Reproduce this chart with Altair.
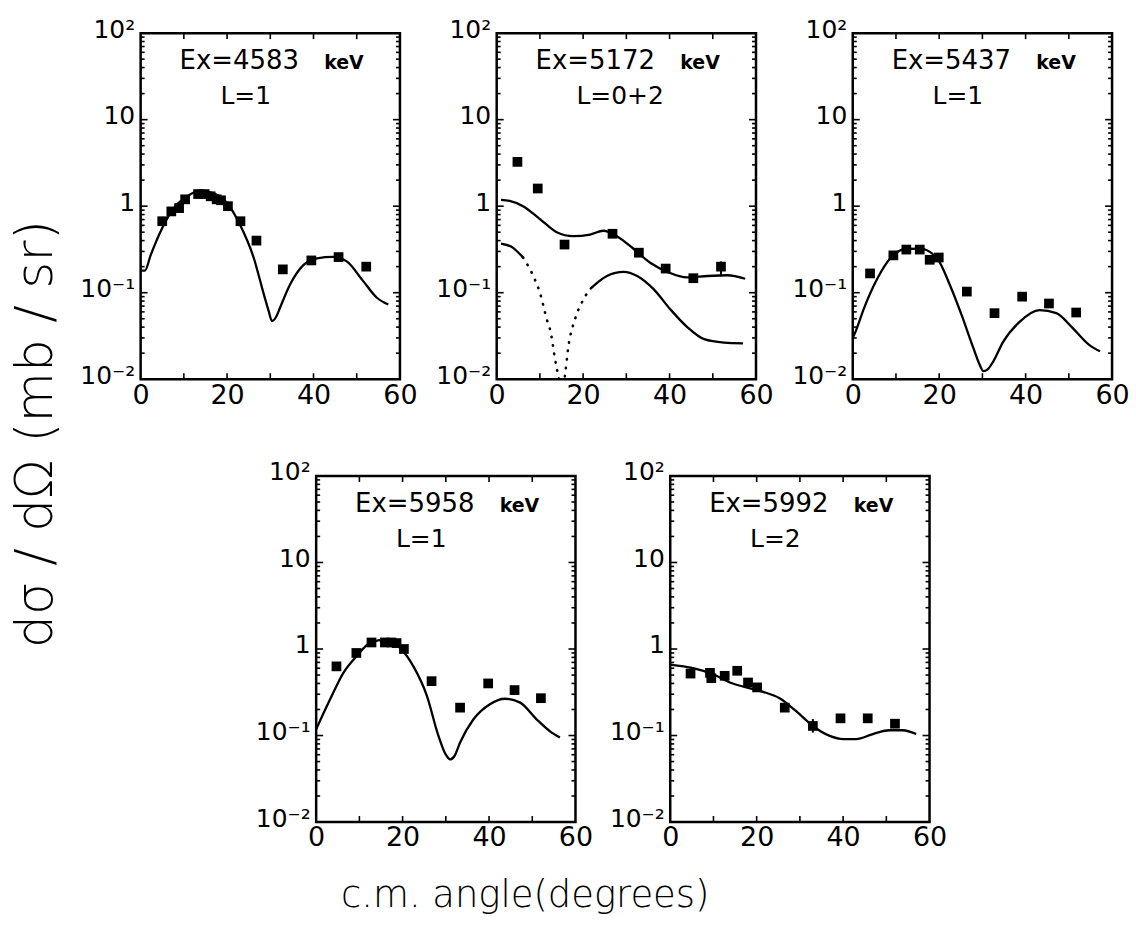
import altair as alt
import pandas as pd

FONT = "DejaVu Sans"
W, H = 260, 347

# ---------------- panel labels ----------------
ex_labels = ["Ex=4583", "Ex=5172", "Ex=5437", "Ex=5958", "Ex=5992"]
l_labels = ["L=1", "L=0+2", "L=1", "L=1", "L=2"]

# ---------------- data points (angle deg, mb/sr) ----------------
p1_ang = [5.0, 7.1, 8.9, 10.3, 13.3, 14.8, 16.2, 17.6, 18.6, 20.2, 23.1, 26.8, 32.9, 39.5, 45.8, 52.2]
p1_val = [0.67, 0.87, 0.95, 1.2, 1.38, 1.38, 1.30, 1.20, 1.17, 1.0, 0.67, 0.40, 0.186, 0.236, 0.258, 0.20]

p2_ang = [4.8, 9.5, 15.7, 26.8, 32.9, 39.1, 45.5, 51.9]
p2_val = [3.25, 1.60, 0.36, 0.48, 0.29, 0.19, 0.147, 0.20]

p3_ang = [4.0, 9.4, 12.4, 15.5, 17.8, 19.9, 26.4, 32.8, 39.2, 45.4, 51.7]
p3_val = [0.167, 0.27, 0.315, 0.315, 0.24, 0.255, 0.103, 0.058, 0.090, 0.075, 0.059]

p4_ang = [4.7, 9.3, 12.8, 15.9, 17.4, 18.6, 20.3, 26.7, 33.3, 39.8, 45.9, 52.0]
p4_val = [0.63, 0.90, 1.19, 1.19, 1.19, 1.17, 1.0, 0.425, 0.21, 0.40, 0.335, 0.27]

p5_ang = [4.7, 9.2, 9.5, 12.6, 15.5, 18.0, 20.1, 26.5, 33.0, 39.4, 45.7, 52.0]
p5_val = [0.52, 0.53, 0.46, 0.49, 0.56, 0.41, 0.36, 0.21, 0.129, 0.158, 0.158, 0.137]

# error bars (angle, low, high)
p2_err_ang, p2_err_lo, p2_err_hi = [51.9], [0.155], [0.23]
p5_err_ang, p5_err_lo, p5_err_hi = [33.0], [0.108], [0.155]

# ---------------- calculated curves ----------------
c1_ang = [0, 1.0, 2.3, 5, 7.7, 10.8, 13.8, 16.9, 20, 23, 26.2, 28.5, 29.6, 30.4, 31.3, 32.3, 34.6, 37.7, 40.8, 44.6, 47.7, 51.5, 54.6, 57.3]
c1_val = [0.18, 0.18, 0.27, 0.56, 0.95, 1.30, 1.51, 1.41, 1.09, 0.61, 0.25, 0.096, 0.062, 0.047, 0.052, 0.068, 0.125, 0.21, 0.25, 0.26, 0.23, 0.136, 0.088, 0.073]

c2_ang = [1.0, 3, 6.1, 10, 13.9, 17.7, 21.6, 24.7, 27.8, 31.7, 35.6, 39.5, 44.1, 48.8, 53.4, 57.5]
c2_val = [1.18, 1.15, 1.0, 0.71, 0.50, 0.45, 0.47, 0.52, 0.45, 0.32, 0.22, 0.174, 0.15, 0.156, 0.159, 0.145]

c2b_solid1_ang = [1.0, 3.8, 6.1]
c2b_solid1_val = [0.37, 0.33, 0.255]
c2b_dot_ang = [6.1, 8.8, 10, 11.6, 12.5, 13.5, 14.3, 15.1, 15.8, 16.6, 18.1, 20.1, 21.6]
c2b_dot_val = [0.255, 0.143, 0.10, 0.049, 0.035, 0.017, 0.0105, 0.006, 0.011, 0.024, 0.049, 0.084, 0.11]
c2b_solid2_ang = [21.6, 25.5, 29.4, 32.5, 36.3, 40.2, 44.1, 48, 52.6, 57]
c2b_solid2_val = [0.11, 0.156, 0.174, 0.156, 0.11, 0.064, 0.040, 0.029, 0.0265, 0.026]

c3_ang = [0, 0.7, 2.6, 5.7, 8.7, 12.2, 15.6, 19.5, 22.5, 25.2, 27.9, 29.3, 30.2, 31.2, 32.5, 34.8, 38.6, 43.2, 47.1, 50.9, 54.7, 57.2]
c3_val = [0.03, 0.036, 0.066, 0.146, 0.25, 0.32, 0.323, 0.25, 0.122, 0.055, 0.023, 0.015, 0.0124, 0.013, 0.016, 0.027, 0.046, 0.063, 0.058, 0.039, 0.025, 0.021]

c4_ang = [0, 3.2, 6.3, 9.3, 12.4, 16.2, 19.4, 22.5, 25.6, 28.3, 30.0, 31.0, 32.0, 33.3, 36.4, 40.2, 43.7, 47.2, 51, 54.5, 56.4]
c4_val = [0.118, 0.26, 0.53, 0.82, 1.17, 1.28, 1.03, 0.63, 0.29, 0.099, 0.060, 0.053, 0.058, 0.083, 0.154, 0.23, 0.266, 0.24, 0.154, 0.108, 0.095]

c5_ang = [0, 5.3, 9.9, 13.8, 17.6, 21.5, 25.3, 29.2, 33, 36.9, 40, 43, 46.9, 50.7, 53.8, 56.9]
c5_val = [0.66, 0.60, 0.51, 0.41, 0.36, 0.32, 0.27, 0.19, 0.129, 0.099, 0.091, 0.091, 0.104, 0.115, 0.115, 0.104]

# ---------------- axis ticks ----------------
y_major = [0.01, 0.1, 1, 10, 100]
y_minor = [k * d for d in [0.01, 0.1, 1, 10] for k in range(2, 10)]
x_ticks = [10, 20, 30, 40, 50]
x_labels = [0, 20, 40, 60]

xscale = alt.Scale(domain=[0, 60], nice=False, zero=False)
yscale = alt.Scale(type="log", domain=[0.01, 100], nice=False)

ylab_expr = ("datum.value >= 99 ? '10\u00b2' : datum.value >= 9 ? '10' : "
             "datum.value >= 0.9 ? '1' : datum.value >= 0.09 ? '10\u207b\u00b9' : '10\u207b\u00b2'")

XLS, YLS = 27, 25
xaxis = alt.Axis(values=x_labels, ticks=False, domain=False, grid=False, labelFlush=False,
                 labelFontSize=XLS, labelPadding=3, labelFont=FONT, labelColor="black")
yaxis = alt.Axis(values=y_major, labelExpr=ylab_expr, ticks=False, domain=False, grid=False,
                 labelFontSize=YLS, labelPadding=6, labelFont=FONT, labelColor="black",
                 labelBaseline="alphabetic", labelOffset=4)


def X(f):
    return alt.X(f, type="quantitative", scale=xscale, axis=xaxis, title=None)


def Y(f):
    return alt.Y(f, type="quantitative", scale=yscale, axis=yaxis, title=None)


def line(ang, val, dash=None):
    kw = dict(color="black", strokeWidth=2.3, interpolate="monotone", clip=True)
    if dash is not None:
        kw["strokeDash"] = dash
        kw["strokeCap"] = "round"
        kw["strokeWidth"] = 2.6
    return alt.Chart(pd.DataFrame({"a": ang, "v": val})).mark_line(**kw).encode(x=X("a"), y=Y("v"))


def frame_ticks():
    ymaj = pd.DataFrame({"v": y_major[1:-1]})
    ymin = pd.DataFrame({"v": y_minor})
    xt = pd.DataFrame({"a": x_ticks})
    out = []
    for df, ln in [(ymaj, 7), (ymin, 4)]:
        out.append(alt.Chart(df).mark_rule(color="black", strokeWidth=1.6).encode(
            y=Y("v"), x=alt.value(0), x2=alt.value(ln)))
        out.append(alt.Chart(df).mark_rule(color="black", strokeWidth=1.6).encode(
            y=Y("v"), x=alt.value(W - ln), x2=alt.value(W)))
    out.append(alt.Chart(xt).mark_rule(color="black", strokeWidth=1.6).encode(
        x=X("a"), y=alt.value(H), y2=alt.value(H - 6)))
    out.append(alt.Chart(xt).mark_rule(color="black", strokeWidth=1.6).encode(
        x=X("a"), y=alt.value(0), y2=alt.value(6)))
    return out


def texts(ex, lab):
    t1 = alt.Chart(pd.DataFrame({"t": [ex]})).mark_text(
        align="left", baseline="middle", fontSize=26, font=FONT, color="black").encode(
        text="t:N", x=alt.value(39), y=alt.value(28))
    t2 = alt.Chart(pd.DataFrame({"t": ["keV"]})).mark_text(
        align="left", baseline="middle", fontSize=19, fontWeight="bold", font=FONT, color="black").encode(
        text="t:N", x=alt.value(184), y=alt.value(30))
    t3 = alt.Chart(pd.DataFrame({"t": [lab]})).mark_text(
        align="left", baseline="middle", fontSize=25, font=FONT, color="black").encode(
        text="t:N", x=alt.value(80), y=alt.value(63))
    return [t1, t2, t3]


def points(ang, val):
    return alt.Chart(pd.DataFrame({"a": ang, "v": val})).mark_square(
        size=95, color="black", opacity=1).encode(x=X("a"), y=Y("v"))


def errbars(ang, lo, hi):
    return alt.Chart(pd.DataFrame({"a": ang, "lo": lo, "hi": hi})).mark_rule(
        color="black", strokeWidth=2).encode(x=X("a"), y=Y("lo"), y2="hi:Q")


def panel(i, pa, pv, curves, extra=None):
    layers = [points(pa, pv)] + curves + frame_ticks() + texts(ex_labels[i], l_labels[i])
    if extra is not None:
        layers.append(extra)
    return alt.layer(*layers).properties(width=W, height=H)


p1 = panel(0, p1_ang, p1_val, [line(c1_ang, c1_val)])
p2 = panel(1, p2_ang, p2_val, [line(c2_ang, c2_val),
                                 line(c2b_solid1_ang, c2b_solid1_val),
                                 line(c2b_dot_ang, c2b_dot_val, dash=[0.5, 8]),
                                 line(c2b_solid2_ang, c2b_solid2_val)],
           errbars(p2_err_ang, p2_err_lo, p2_err_hi))
p3 = panel(2, p3_ang, p3_val, [line(c3_ang, c3_val)])
p4 = panel(3, p4_ang, p4_val, [line(c4_ang, c4_val)])
p5 = panel(4, p5_ang, p5_val, [line(c5_ang, c5_val)],
           errbars(p5_err_ang, p5_err_lo, p5_err_hi))

spacer = alt.Chart(pd.DataFrame({"s": [0]})).mark_point(opacity=0).encode(
    x=alt.X("s:Q", axis=None), y=alt.Y("s:Q", axis=None)
).properties(width=81, height=H, view=alt.ViewBackground(stroke="transparent"))

top = alt.hconcat(p1, p2, p3, spacing=97, bounds="flush")
bottom = alt.hconcat(spacer, p4, p5, spacing=95, bounds="flush")

main = alt.vconcat(top, bottom, spacing=48).properties(
    title=alt.TitleParams("d\u03c3 / d\u03a9   (mb / sr)", orient="left", anchor="middle",
                          fontSize=52, font=FONT, fontWeight=200, color="black", offset=16)
)

chart = alt.vconcat(main).properties(
    title=alt.TitleParams("c.m. angle(degrees)", orient="bottom", anchor="middle",
                          fontSize=37, font=FONT, fontWeight=200, color="black",
                          dx=-45, offset=26),
    padding={"left": 9, "top": 14, "right": 5, "bottom": 5},
    background="white",
).configure_view(stroke="black", strokeWidth=2.5
).configure_axisX(labelFontSize=XLS, labelFont=FONT, labelColor="black"
).configure_axisY(labelFontSize=YLS, labelFont=FONT, labelColor="black")

chart.save("out.html", embed_options={"renderer": "svg", "actions": False})
